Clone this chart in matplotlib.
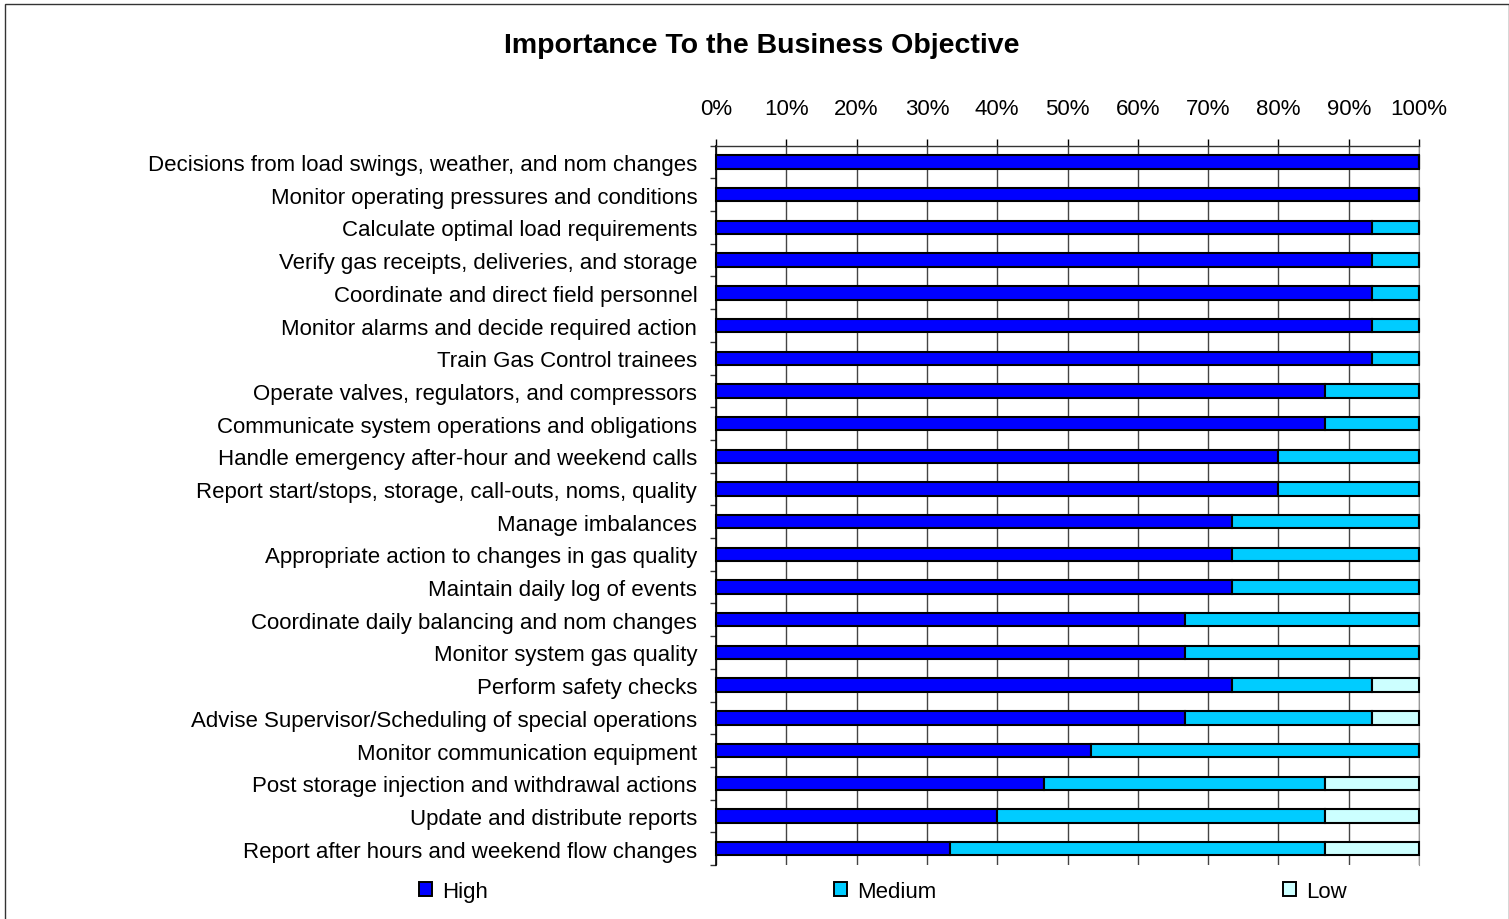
import matplotlib
matplotlib.use("Agg")
import matplotlib.pyplot as plt
from matplotlib.patches import Rectangle, Patch
from matplotlib.ticker import FixedLocator, PercentFormatter

plt.rcParams['font.family'] = ['Liberation Sans', 'DejaVu Sans']

tasks = [
    "Decisions from load swings, weather, and nom changes",
    "Monitor operating pressures and conditions",
    "Calculate optimal load requirements",
    "Verify gas receipts, deliveries, and storage",
    "Coordinate and direct field personnel",
    "Monitor alarms and decide required action",
    "Train Gas Control trainees",
    "Operate valves, regulators, and compressors",
    "Communicate system operations and obligations",
    "Handle emergency after-hour and weekend calls",
    "Report start/stops, storage, call-outs, noms, quality",
    "Manage imbalances",
    "Appropriate action to changes in gas quality",
    "Maintain daily log of events",
    "Coordinate daily balancing and nom changes",
    "Monitor system gas quality",
    "Perform safety checks",
    "Advise Supervisor/Scheduling of special operations",
    "Monitor communication equipment",
    "Post storage injection and withdrawal actions",
    "Update and distribute reports",
    "Report after hours and weekend flow changes",
]

# number of responses per rating (15 respondents)
high = [15, 15, 14, 14, 14, 14, 14, 13, 13, 12, 12, 11, 11, 11, 10, 10, 11, 10, 8, 7, 6, 5]
medium = [0, 0, 1, 1, 1, 1, 1, 2, 2, 3, 3, 4, 4, 4, 5, 5, 3, 4, 7, 6, 7, 8]
low = [0, 0, 0, 0, 0, 0, 0, 0, 0, 0, 0, 0, 0, 0, 0, 0, 1, 1, 0, 2, 2, 2]

series = ["High", "Medium", "Low"]
colors = ["#0000FF", "#00CCFF", "#CCFFFF"]
FS = 16

totals = [h + m + l for h, m, l in zip(high, medium, low)]

fig = plt.figure(figsize=(15.09, 9.2), dpi=100)
ax = fig.add_axes([716 / 1509, 1 - 866 / 920, 703 / 1509, 719.3 / 920])

y = list(range(len(tasks)))
left = [0.0] * len(tasks)
for counts, c in zip([high, medium, low], colors):
    vals = [100.0 * n / t for n, t in zip(counts, totals)]
    ax.barh(y, vals, left=left, height=0.41, color=c, edgecolor='black',
            linewidth=1.5, zorder=3, clip_on=False)
    left = [a + b for a, b in zip(left, vals)]

ax.set_xlim(0, 100)
ax.set_ylim(len(tasks) - 0.5, -0.5)
ax.xaxis.set_major_locator(FixedLocator(range(0, 101, 10)))
ax.xaxis.set_major_formatter(PercentFormatter(decimals=0))
ax.xaxis.tick_top()
ax.tick_params(axis='x', which='major', direction='out', length=5, width=1,
               pad=14, labelsize=FS, top=True, bottom=False)
ax.set_yticks(y)
ax.set_yticklabels(tasks)
ax.tick_params(axis='y', which='major', length=0, pad=13.5, labelsize=FS)
ax.yaxis.set_minor_locator(FixedLocator([i - 0.5 for i in range(len(tasks) + 1)]))
ax.tick_params(axis='y', which='minor', direction='out', length=4.5, width=1, color='#333333')

ax.grid(axis='x', color='#444444', linewidth=1, zorder=0)
ax.spines['bottom'].set_visible(False)
ax.spines['right'].set_color('#999999')
ax.spines['left'].set_linewidth(1.2)
ax.spines['top'].set_linewidth(1)
ax.spines['top'].set_color('#333333')

fig.text(0.505, 0.95, "Importance To the Business Objective", ha='center', va='center',
         fontsize=20.5, fontweight='bold')

handles = [Patch(facecolor=c, edgecolor='black', linewidth=1.4) for c in colors]
fig.legend(handles, series, loc='center', bbox_to_anchor=(0.585, 0.0304), ncol=3,
           frameon=False, fontsize=FS, handlelength=0.58, handleheight=0.58,
           handletextpad=0.45, columnspacing=15.6)

fig.add_artist(Rectangle((5 / 1509, -0.01), 1 - 5.5 / 1509, 1.01 - 5 / 920,
                         transform=fig.transFigure, fill=False,
                         edgecolor='#333333', linewidth=1))

fig.savefig("out.png", dpi=100)
